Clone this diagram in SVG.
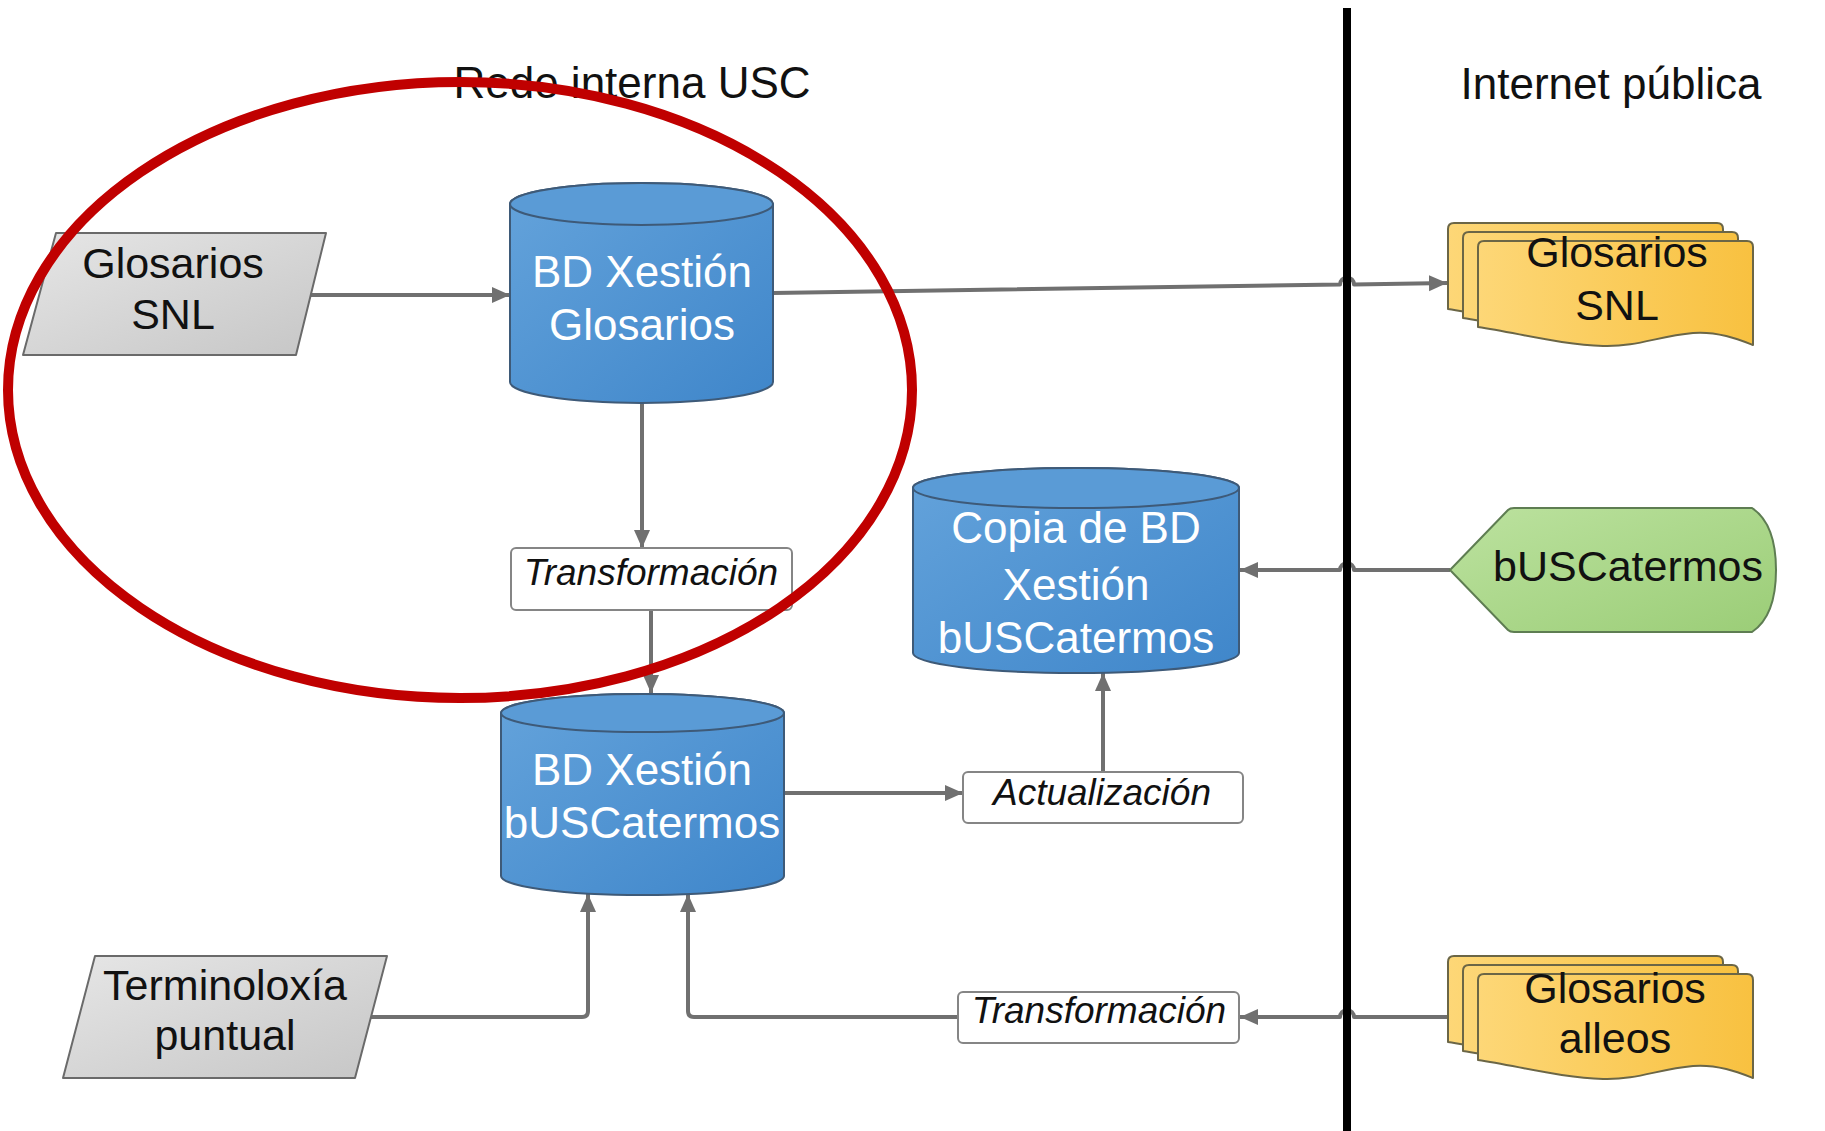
<svg xmlns="http://www.w3.org/2000/svg" width="1825" height="1131" viewBox="0 0 1825 1131">
<defs>
<style>
text{font-family:"Liberation Sans",Arial,sans-serif;text-anchor:middle}
.t{font-size:43px;fill:#111}
.w{font-size:44px;fill:#fff}
.i{font-size:37px;fill:#111;font-style:italic}
.h{font-size:44px;fill:#111}
.gray{fill:url(#gGray);stroke:#6a6a6a;stroke-width:2;stroke-linejoin:round}
.db{fill:url(#gBlue);stroke:#3e5a78;stroke-width:2}
.dbtop{fill:#5a9bd6;stroke:#3e5a78;stroke-width:2}
.doc{fill:url(#gYellow);stroke:#6b6646;stroke-width:2;stroke-linejoin:round}
.lbl{fill:#fff;stroke:#858585;stroke-width:2}
.c{fill:none;stroke:#707070;stroke-width:4;stroke-linejoin:round}
.a{marker-end:url(#ah)}
</style>
<linearGradient id="gGray" x1="0" y1="0" x2="1" y2="1"><stop offset="0" stop-color="#e6e6e6"/><stop offset="1" stop-color="#c6c6c6"/></linearGradient>
<linearGradient id="gBlue" x1="0" y1="0" x2="1" y2="1"><stop offset="0" stop-color="#64a3db"/><stop offset="1" stop-color="#3f86ca"/></linearGradient>
<linearGradient id="gYellow" x1="0" y1="0" x2="1" y2="0"><stop offset="0" stop-color="#fdd777"/><stop offset="1" stop-color="#f8c140"/></linearGradient>
<linearGradient id="gGreen" x1="0" y1="0" x2="1" y2="1"><stop offset="0" stop-color="#bce29f"/><stop offset="1" stop-color="#9bcd77"/></linearGradient>
<marker id="ah" markerWidth="20" markerHeight="18" refX="18" refY="9" orient="auto" markerUnits="userSpaceOnUse"><path d="M0,1 L18,9 L0,17 Z" fill="#707070"/></marker>
<path id="sheet" d="M0,6 Q0,0 6,0 H269 Q275,0 275,6 V104 C262,99 240,90 215,92 C180,95 160,106 125,105 C85,104 40,92 0,86 Z"/>
</defs>
<rect width="1825" height="1131" fill="#fff"/>

<g id="headers">
<text class="h" x="632" y="98">Rede interna USC</text>
<text class="h" x="1611" y="99">Internet pública</text>
</g>

<g id="connectors">
<path class="c a" d="M290,295 H510"/>
<path class="c a" d="M773,293 L1340,284.5 A7,7 0 0 1 1354,284.4 L1447,283"/>
<path class="c a" d="M642,403 V548"/>
<path class="c a" d="M651,610 V693"/>
<path class="c a" d="M784,793 H963"/>
<path class="c a" d="M1103,772 V673"/>
<path class="c a" d="M1450,570 H1354 A7,7 0 0 0 1340,570 H1240"/>
<path class="c a" d="M1448,1017 H1354 A7,7 0 0 0 1340,1017 H1240"/>
<path class="c a" d="M958,1017 H694 Q688,1017 688,1011 V894"/>
<path class="c a" d="M371,1017 H582 Q588,1017 588,1011 V894"/>
</g>

<g id="divider">
<rect x="1343" y="8" width="8" height="1123" fill="#000"/>
</g>

<g id="glosarios-snl-in">
<path class="gray" d="M56,233 H326 L296,355 H23 Z"/>
<text class="t" x="173" y="278">Glosarios</text>
<text class="t" x="173" y="329">SNL</text>
</g>

<g id="bd-glosarios">
<path class="db" d="M510,204 V382 A131.5,21 0 0 0 773,382 V204 A131.5,21 0 0 0 510,204 Z"/>
<ellipse class="dbtop" cx="641.5" cy="204" rx="131.5" ry="21"/>
<text class="w" x="642" y="287">BD Xestión</text>
<text class="w" x="642" y="340">Glosarios</text>
</g>

<g id="transf1">
<rect class="lbl" x="511" y="548" width="281" height="62" rx="5"/>
<text class="i" x="651" y="585">Transformación</text>
</g>

<g id="bd-buscatermos">
<path class="db" d="M501,713 V876 A141.5,19 0 0 0 784,876 V713 A141.5,19 0 0 0 501,713 Z"/>
<ellipse class="dbtop" cx="642.5" cy="713" rx="141.5" ry="19"/>
<text class="w" x="642" y="785">BD Xestión</text>
<text class="w" x="642" y="838">bUSCatermos</text>
</g>

<g id="copia">
<path class="db" d="M913,488 V653 A163,20 0 0 0 1239,653 V488 A163,20 0 0 0 913,488 Z"/>
<ellipse class="dbtop" cx="1076" cy="488" rx="163" ry="20"/>
<text class="w" x="1076" y="543">Copia de BD</text>
<text class="w" x="1076" y="600">Xestión</text>
<text class="w" x="1076" y="653">bUSCatermos</text>
</g>

<g id="actualizacion">
<rect class="lbl" x="963" y="772" width="280" height="51" rx="5"/>
<text class="i" x="1102" y="805">Actualización</text>
</g>

<g id="transf2">
<rect class="lbl" x="958" y="992" width="281" height="51" rx="5"/>
<text class="i" x="1099" y="1023">Transformación</text>
</g>

<g id="terminoloxia">
<path class="gray" d="M95,956 H387 L355,1078 H63 Z"/>
<text class="t" x="225" y="1000">Terminoloxía</text>
<text class="t" x="225" y="1050">puntual</text>
</g>

<g id="glosarios-snl-out">
<use href="#sheet" class="doc" x="1448" y="223"/>
<use href="#sheet" class="doc" x="1463" y="232"/>
<use href="#sheet" class="doc" x="1478" y="241"/>
<text class="t" x="1617" y="267">Glosarios</text>
<text class="t" x="1617" y="320">SNL</text>
</g>

<g id="buscatermos-web">
<path d="M1450,570 L1508,510 Q1510,508 1514,508 H1752 C1770,520 1776,545 1776,570 C1776,595 1770,620 1752,632 H1514 Q1510,632 1508,630 Z" fill="url(#gGreen)" stroke="#5e7d52" stroke-width="2"/>
<text class="t" x="1628" y="581">bUSCatermos</text>
</g>

<g id="glosarios-alleos">
<use href="#sheet" class="doc" x="1448" y="956"/>
<use href="#sheet" class="doc" x="1463" y="965"/>
<use href="#sheet" class="doc" x="1478" y="974"/>
<text class="t" x="1615" y="1003">Glosarios</text>
<text class="t" x="1615" y="1053">alleos</text>
</g>

<g id="highlight">
<ellipse cx="460" cy="390" rx="452" ry="308" fill="none" stroke="#c00000" stroke-width="10"/>
</g>
</svg>
